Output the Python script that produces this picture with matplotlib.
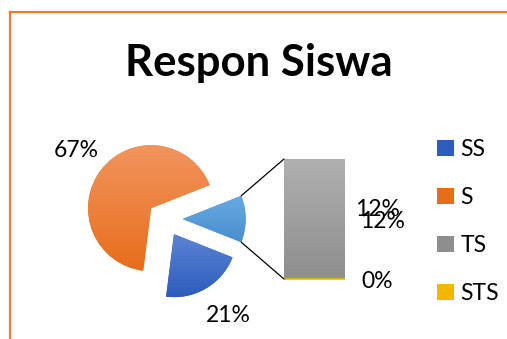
import numpy as np
import matplotlib.pyplot as plt
from matplotlib.lines import Line2D
from matplotlib.patches import Patch, ConnectionPatch
from matplotlib.colors import LinearSegmentedColormap

plt.rcParams['font.family'] = ['Lato', 'DejaVu Sans']

categories = ['SS', 'S', 'TS', 'STS']
values = [21, 67, 12, 0]

# gradient ends (top, bottom) for each series
fills = {
    'SS': ('#5C84D4', '#2C5CBC'),
    'S': ('#F2955E', '#E76D1B'),
    'TS': ('#B0B0B0', '#8E8E8E'),
    'STS': ('#FFCF3A', '#F2B800'),
}
other_fill = ('#68AAE3', '#488ECF')
label_size = 16.5


def gradient_fill(ax, patch, top, bottom, zorder=2):
    bb = patch.get_path().get_extents(patch.get_patch_transform())
    cmap = LinearSegmentedColormap.from_list('g', [bottom, top])
    grad = np.linspace(0, 1, 256).reshape(-1, 1)
    im = ax.imshow(grad, cmap=cmap, origin='lower', aspect='auto',
                   extent=(bb.x0, bb.x1, bb.y0, bb.y1), zorder=zorder,
                   interpolation='bilinear')
    im.set_clip_path(patch)
    return im


fig = plt.figure(figsize=(5.07, 3.39), dpi=100)

# orange frame, left and top edges
fig.add_artist(Line2D([10 / 507, 10 / 507], [0, 1 - 12 / 339],
                      color='#ED7D31', lw=1.6, transform=fig.transFigure))
fig.add_artist(Line2D([10 / 507, 1], [1 - 12 / 339, 1 - 12 / 339],
                      color='#ED7D31', lw=1.6, transform=fig.transFigure))

fig.text(259 / 507, 1 - 76 / 339, 'Respon Siswa', ha='center', va='baseline',
         fontsize=31.5, fontweight='bold')

# pie: the two smallest categories are combined into one slice
total = sum(values)
other = values[2] + values[3]
pie_vals = [other, values[0], values[1]]
pie_fills = [other_fill, fills['SS'], fills['S']]
pct_texts = iter(['', f'{values[0] / total * 100:.0f}%', f'{values[1] / total * 100:.0f}%'])

ax_pie = fig.add_axes([70.5 / 507, 25.5 / 339, 189 / 507, 189 / 339])
wedges, texts, autotexts = ax_pie.pie(
    pie_vals, startangle=180 * other / total, counterclock=False,
    explode=[0.28, 0.28, 0.28], autopct=lambda p: next(pct_texts),
    pctdistance=1.5, textprops={'fontsize': label_size})
for w, (top, bottom) in zip(wedges, pie_fills):
    w.set_facecolor(bottom)
    w.set_edgecolor('none')
    gradient_fill(ax_pie, w, top, bottom)
autotexts[1].set_x(autotexts[1].get_position()[0] + 0.1)
ax_pie.set_xlim(-1.5, 1.5)
ax_pie.set_ylim(-1.5, 1.5)
ax_pie.set_aspect('equal')
ax_pie.axis('off')

# bar that breaks down the combined slice
ax_bar = fig.add_axes([284 / 507, 60 / 339, 61 / 507, 120 / 339])
bars_ts = ax_bar.bar(0, values[2], bottom=values[3], width=1.0,
                     color=fills['TS'][1], edgecolor='none')
gradient_fill(ax_bar, bars_ts[0], *fills['TS'])
ax_bar.bar(0, values[3], width=1.0, color='none', edgecolor=fills['STS'][1],
           lw=1.2, zorder=3, clip_on=False)
ax_bar.set_xlim(-0.5, 0.5)
ax_bar.set_ylim(0, other)
ax_bar.axis('off')

ax_bar.text(1.04, values[3] + values[2] / 2 + 1.0, f'{other / total * 100:.0f}%',
            ha='center', va='center', fontsize=label_size, clip_on=False)
ax_bar.text(1.12, values[3] + values[2] / 2 - 0.2, f'{values[2] / total * 100:.0f}%',
            ha='center', va='center', fontsize=label_size, clip_on=False)
ax_bar.text(1.02, values[3] - 0.2, f'{values[3] / total * 100:.0f}%',
            ha='center', va='center', fontsize=label_size, clip_on=False)

# connector lines from the small slice to the bar
w = wedges[0]
for ang, yb in [(w.theta2, other), (w.theta1, 0)]:
    pa = (w.center[0] + w.r * np.cos(np.radians(ang)),
          w.center[1] + w.r * np.sin(np.radians(ang)))
    fig.add_artist(ConnectionPatch(xyA=pa, coordsA=ax_pie.transData,
                                   xyB=(-0.5, yb), coordsB=ax_bar.transData,
                                   color='black', lw=0.9))

handles = [Patch(facecolor=fills[c][1], edgecolor='none') for c in categories]
fig.legend(handles, categories, loc='upper left',
           bbox_to_anchor=(428 / 507, 1 - 130 / 339), frameon=False,
           fontsize=label_size, handlelength=0.72, handleheight=0.72,
           handletextpad=0.3, labelspacing=1.18, borderaxespad=0)

fig.savefig('out.png', dpi=100)
